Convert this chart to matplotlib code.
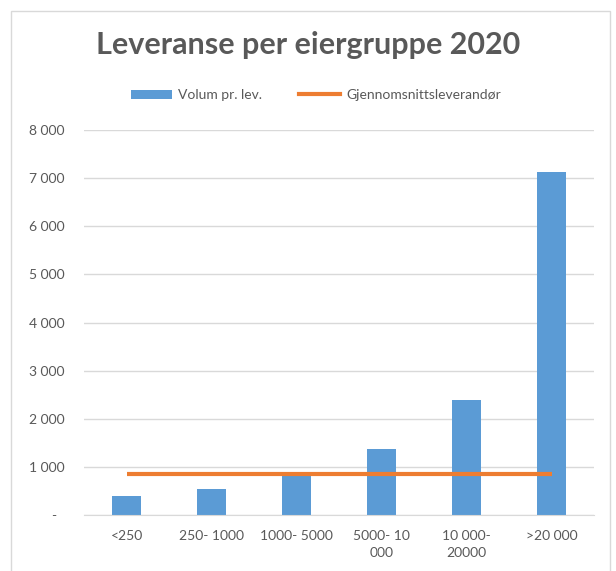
import matplotlib
matplotlib.use("Agg")
import matplotlib.pyplot as plt
from matplotlib.patches import Rectangle
from matplotlib.lines import Line2D
from matplotlib.patches import Patch

categories = ["<250", "250- 1000", "1000- 5000", "5000- 10\n000", "10 000-\n20000", ">20 000"]
volum = [400, 545, 840, 1375, 2385, 7120]
snitt = [857, 857, 857, 857, 857, 857]
yticks = [0, 1000, 2000, 3000, 4000, 5000, 6000, 7000, 8000]
ytick_labels = ["-  ", "1 000", "2 000", "3 000", "4 000", "5 000", "6 000", "7 000", "8 000"]

plt.rcParams['font.family'] = ['Lato', 'DejaVu Sans']
grey = "#595959"

fig = plt.figure(figsize=(6.16, 5.71), dpi=100)
ax = fig.add_axes([84/616, 1-515/571, 510/616, 385/571])

x = list(range(len(categories)))
ax.bar(x, volum, width=0.33, color="#5B9BD5", zorder=2)
ax.plot(x, snitt, color="#ED7D31", linewidth=3, solid_capstyle="butt", zorder=3)

ax.set_xlim(-0.5, len(categories) - 0.5)
ax.set_ylim(0, 8000)
ax.set_yticks(yticks)
ax.set_yticklabels(ytick_labels)
ax.set_xticks(x)
ax.set_xticklabels(categories, linespacing=1.45)
ax.grid(axis="y", color="#d9d9d9", linewidth=1, zorder=0)
ax.set_axisbelow(True)
for s in ["left", "right", "top"]:
    ax.spines[s].set_visible(False)
ax.spines["bottom"].set_color("#d9d9d9")
ax.tick_params(axis="both", length=0, labelsize=10, labelcolor=grey)
ax.tick_params(axis="y", pad=14)
ax.tick_params(axis="x", pad=11)
for lbl in ax.get_xticklabels():
    lbl.set_verticalalignment("top")

fig.text(0.5, 1-45/571, "Leveranse per eiergruppe 2020", ha="center", va="center",
         fontsize=22, fontweight="bold", color=grey)

handles = [Patch(facecolor="#5B9BD5", edgecolor="none"),
           Line2D([0], [0], color="#ED7D31", linewidth=3)]
fig.legend(handles, ["Volum pr. lev.", "Gjennomsnittsleverandør"], loc="center",
           bbox_to_anchor=(0.513, 1-95/571), ncol=2, frameon=False, fontsize=10,
           labelcolor=grey, handlelength=2.9, handleheight=0.6, columnspacing=2.7,
           handletextpad=0.45)

fig.patches.append(Rectangle((11/616, -0.05), (610-11)/616, 1.05 - 11/571,
                             transform=fig.transFigure, fill=False,
                             edgecolor="#d9d9d9", linewidth=1))

fig.savefig("out.png", dpi=100)
